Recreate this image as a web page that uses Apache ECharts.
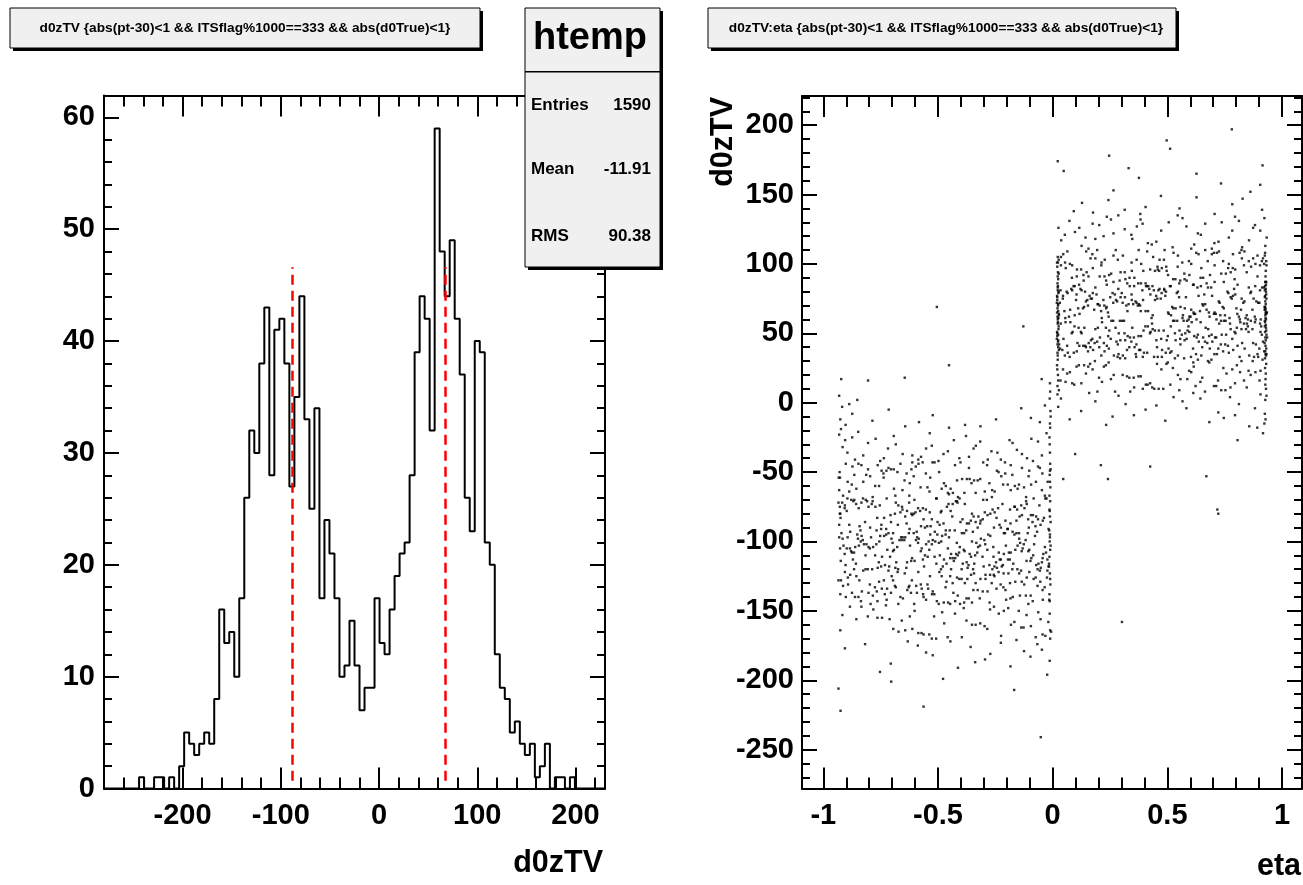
<!DOCTYPE html>
<html><head><meta charset="utf-8">
<script src="https://cdn.jsdelivr.net/npm/echarts@6/dist/echarts.min.js"></script>
<style>html,body{margin:0;padding:0;background:#fff;}#c{width:1303px;height:885px;}</style>
</head><body><div id="c"></div>
<script>
// ---------- data ----------
const histTitle = 'd0zTV {abs(pt-30)<1 && ITSflag%1000==333 && abs(d0True)<1}';
const scatTitle = 'd0zTV:eta {abs(pt-30)<1 && ITSflag%1000==333 && abs(d0True)<1}';
const statsName = 'htemp';
const statsLabels = ['Entries', 'Mean', 'RMS'];
const statsValues = ['1590', '-11.91', '90.38'];
const histXName = 'd0zTV';
const scatXName = 'eta';
const scatYName = 'd0zTV';

const histRange = [-280, 230];
const histCounts = [
  0,0,0,0,0,0,0,1,0,0,
  1,1,0,1,0,2,5,4,3,4,
  5,4,8,16,13,14,10,17,26,32,
  30,38,43,28,41,42,38,27,35,44,
  33,25,34,17,24,21,17,10,11,15,
  11,7,9,9,17,13,12,16,19,21,
  22,28,39,44,42,32,59,48,44,49,
  42,37,26,23,40,39,22,20,12,9,
  8,5,6,4,3,4,1,2,4,0,
  1,1,0,1,0,0,0,0,0,0
];
const histYMax = 61.95;
const redLineX = [-88.5, 67.1];
const redLineY = [0.7, 46.6];
const histXTicks = [-200, -100, 0, 100, 200];
const histYTicks = [0, 10, 20, 30, 40, 50, 60];

const scatXRange = [-1.093, 1.087];
const scatYRange = [-278, 221];
const scatXTicks = [-1, -0.5, 0, 0.5, 1];
const scatYTicks = [-250, -200, -150, -100, -50, 0, 50, 100, 150, 200];

// scatter points [eta, d0zTV], eta < 0 cluster
const leftCore = [
[-.931,-97],[-.474,-113],[-.126,-102],[-.713,-118],[-.285,-106],[-.852,-95],[-.557,-110],[-.034,-104],[-.392,-116],[-.668,-99],[-.191,-108],[-.806,-120],[-.333,-101],[-.602,-114],[-.077,-96],[-.515,-111],[-.884,-105],[-.243,-119],[-.756,-100],[-.421,-109],[-.158,-94],[-.635,-115],[-.912,-103],[-.367,-117],[-.584,-98],[-.093,-112],[-.696,-107],
[-.452,-97],[-.226,-113],[-.823,-102],[-.301,-118],[-.538,-106],[-.012,-95],[-.774,-110],[-.405,-104],[-.172,-116],[-.647,-99],[-.875,-108],[-.263,-120],[-.496,-101],[-.114,-114],[-.735,-96],[-.356,-111],[-.571,-105],[-.052,-119],[-.837,-100],[-.443,-109],[-.208,-94],[-.682,-115],[-.317,-103],[-.903,-117],[-.146,-98],[-.613,-112],[-.384,-107],
[-.792,-97],[-.023,-113],[-.527,-102],[-.254,-118],[-.721,-106],[-.467,-95],[-.085,-110],[-.861,-104],[-.342,-116],[-.596,-99],[-.183,-108],[-.674,-120],[-.418,-101],[-.924,-114],[-.272,-96],[-.545,-111],[-.131,-105],[-.763,-119],[-.486,-100],[-.041,-109],[-.627,-94],[-.375,-115],[-.845,-103],[-.217,-117],[-.703,-98],[-.436,-112],[-.106,-107],
[-.894,-97],[-.566,-113],[-.294,-102],[-.748,-118],[-.163,-106],[-.503,-95],[-.816,-110],[-.325,-104],[-.062,-116],[-.658,-99],[-.235,-108],[-.787,-120],
[-.927,-105],[-.479,-118],[-.118,-99],[-.709,-111],[-.281,-95],[-.858,-116],[-.552,-102],[-.029,-108],[-.397,-120],[-.661,-97],[-.195,-113],[-.803,-104],[-.338,-110],[-.606,-94],[-.072,-117],[-.512,-100],[-.879,-107],[-.247,-115],[-.752,-96],[-.425,-112],[-.153,-103],[-.638,-119],[-.916,-98],[-.362,-109],[-.587,-101],[-.097,-114],[-.692,-106],
[-.457,-105],[-.222,-118],[-.828,-99],[-.306,-111],[-.534,-95],[-.016,-116],[-.769,-102],[-.408,-108],[-.176,-120],[-.643,-97],[-.871,-113],[-.259,-104],[-.492,-110],[-.109,-94],[-.731,-117],[-.352,-100],[-.575,-107],[-.047,-115],[-.833,-96],[-.447,-112],[-.204,-103],[-.686,-119],[-.313,-98],[-.907,-109],[-.142,-101],[-.617,-114],[-.388,-106],
[-.797,-105],[-.018,-118],[-.523,-99],[-.258,-111],[-.726,-95],[-.463,-116],[-.081,-102],[-.866,-108],[-.347,-120],[-.591,-97],[-.187,-113],[-.678,-104],[-.414,-110],[-.921,-94],[-.276,-117],[-.541,-100],[-.135,-107],[-.758,-115],[-.482,-96],[-.044,-112],[-.622,-103],[-.371,-119],[-.849,-98],[-.213,-109],[-.698,-101],[-.431,-114],[-.102,-106],
[-.898,-105],[-.561,-118],[-.298,-99],[-.744,-111],[-.167,-95],[-.507,-116],[-.812,-102],[-.329,-108],[-.066,-120],[-.654,-97],[-.231,-113],[-.783,-104],
[-.012,-97],[-.014,-111],[-.009,-103],[-.016,-118],[-.011,-106],[-.013,-100]
];
const leftMidUpper = [
[-.785,-71],[-.232,-88],[-.655,-77],[-.068,-93],[-.324,-82],[-.815,-70],[-.502,-86],[-.167,-75],[-.748,-91],[-.296,-79],[-.563,-84],[-.895,-69],[-.104,-90],[-.436,-73],[-.707,-81],[-.213,-94],[-.846,-76],[-.374,-87],[-.626,-72],[-.043,-85],[-.485,-78],[-.768,-92],[-.137,-74],[-.547,-89],[-.272,-80],[-.925,-83],
[-.418,-71],[-.675,-88],[-.186,-77],[-.593,-93],[-.345,-82],[-.865,-70],[-.088,-86],[-.461,-75],[-.726,-91],[-.253,-79],[-.527,-84],[-.027,-69],[-.796,-90],[-.383,-73],[-.612,-81],[-.147,-94],[-.907,-76],[-.316,-87],[-.684,-72],[-.206,-85],[-.445,-78],[-.838,-92],[-.058,-74],[-.574,-89],[-.352,-80],[-.735,-83],
[-.116,-71],[-.493,-88],[-.262,-77],[-.878,-70],[-.175,-93],[-.643,-82],[-.402,-86],[-.773,-75],[-.018,-91],[-.536,-79],[-.305,-84],[-.827,-69],[-.226,-90],[-.454,-73],[-.095,-81],[-.696,-94],[-.587,-76],[-.365,-87],[-.918,-72],[-.158,-85],[-.635,-78],[-.427,-92],[-.754,-74],[-.075,-89],[-.606,-80],[-.245,-83],
[-.422,-71],[-.887,-88],[-.155,-77],[-.514,-93],[-.072,-82],[-.603,-70],[-.336,-86],[-.803,-75],[-.196,-91],[-.664,-79],[-.393,-84],[-.032,-69],[-.557,-90],[-.857,-73],[-.284,-81],[-.716,-94],[-.123,-76],[-.476,-87],[-.934,-72],
[-.928,-80],[-.466,-92],[-.113,-73],[-.705,-86],[-.287,-70],[-.842,-89],[-.553,-77],[-.038,-83],[-.386,-94],[-.657,-75],[-.184,-87],[-.809,-71],[-.327,-90],[-.598,-79],[-.064,-84],[-.508,-69],[-.883,-93],[-.238,-76],[-.747,-88],[-.415,-72],[-.144,-82],[-.624,-91],[-.906,-74],[-.357,-85],[-.578,-78],[-.086,-81],
[-.688,-80],[-.449,-92],[-.219,-73],[-.818,-86],[-.303,-70],[-.532,-89],[-.014,-77],[-.765,-83],[-.396,-94],[-.165,-75],[-.637,-87],[-.869,-71],[-.256,-90],[-.488,-79],[-.107,-84],[-.724,-69],[-.348,-93],[-.566,-76],[-.053,-88],[-.834,-72],[-.438,-82],[-.197,-91],[-.673,-74],[-.314,-85],[-.898,-78],[-.134,-81],
[-.616,-80],[-.377,-92],[-.789,-73],
[-.011,-71],[-.013,-78],[-.009,-86],[-.015,-92],[-.012,-82],[-.928,-75],[-.931,-88],[-.926,-80]
];
const leftMidLower = [
[-.494,-122],[-.117,-139],[-.736,-128],[-.352,-144],[-.575,-131],[-.056,-121],[-.832,-136],[-.447,-125],[-.203,-142],[-.684,-133],[-.315,-127],[-.902,-140],[-.146,-123],[-.618,-137],[-.383,-130],[-.794,-145],[-.025,-126],[-.526,-138],[-.257,-124],[-.722,-134],[-.463,-129],[-.087,-143],[-.866,-120],[-.346,-135],[-.595,-132],[-.184,-141],
[-.676,-122],[-.414,-139],[-.923,-128],[-.275,-144],[-.546,-131],[-.138,-121],[-.767,-136],[-.484,-125],[-.043,-142],[-.628,-133],[-.372,-127],[-.847,-140],[-.214,-123],[-.705,-137],[-.436,-130],[-.106,-145],[-.893,-126],[-.565,-138],[-.293,-124],[-.745,-134],[-.163,-129],[-.505,-143],[-.816,-120],[-.327,-135],[-.066,-132],[-.653,-141],
[-.236,-122],[-.784,-139],[-.934,-128],[-.475,-144],[-.124,-131],[-.716,-121],[-.284,-136],[-.856,-125],[-.552,-142],[-.035,-133],[-.397,-127],[-.664,-140],[-.193,-123],[-.803,-137],[-.336,-130],[-.604,-145],[-.074,-126],[-.516,-138],[-.883,-124],[-.245,-134],[-.757,-129],[-.425,-143],[-.154,-120],[-.634,-135],[-.914,-132],[-.366,-141],
[-.586,-122],[-.096,-139],[-.696,-128],[-.456,-144],[-.227,-131],[-.826,-121],[-.305,-136],[-.535,-125],[-.015,-142],[-.775,-133],[-.407,-127],[-.174,-140],[-.645,-123],[-.875,-137],[-.266,-130],[-.497,-145],[-.113,-126],[-.732,-138],[-.356,-124],[-.571,-134],[-.054,-129],[-.836,-143],[-.443,-120],[-.206,-135],[-.688,-132],[-.318,-141],
[-.906,-122],[-.143,-139],[-.614,-128],[-.386,-144],[-.797,-131],[-.023,-121],[-.523,-136],[-.254,-125],[-.724,-142],[-.467,-133],[-.083,-127],[-.862,-140],[-.343,-123],[-.592,-137],[-.186,-130],[-.673,-145],[-.417,-126],[-.926,-138],[-.273,-124],[-.543,-134],[-.135,-129],[-.764,-143],[-.487,-120],[-.044,-135],[-.625,-132],[-.376,-141],
[-.012,-123],[-.010,-131],[-.014,-138],[-.011,-127],[-.013,-143],
[-.843,-128],[-.215,-133],[-.702,-125],[-.433,-137],[-.102,-122],[-.892,-131],[-.563,-140],[-.293,-127]
];
const leftLow = [
[-.884,-147],[-.612,-163],[-.235,-152],[-.458,-169],[-.053,-156],[-.727,-146],[-.336,-160],[-.148,-150],[-.563,-167],[-.806,-154],[-.019,-158],[-.404,-145],[-.672,-165],[-.273,-149],[-.095,-161],[-.527,-170],[-.917,-153],[-.376,-157],[-.194,-148],[-.643,-164],[-.482,-151],[-.032,-168],[-.764,-155],[-.316,-159],[-.127,-162],[-.586,-166],
[-.256,-147],[-.695,-163],[-.426,-152],[-.074,-169],[-.856,-156],[-.352,-160],[-.213,-150],[-.538,-167],[-.623,-154],[-.167,-158],[-.447,-145],[-.007,-165],[-.782,-149],[-.297,-161],[-.508,-170],[-.114,-153],[-.658,-157],[-.388,-148],[-.926,-164],[-.063,-151],[-.225,-168],[-.744,-155],[-.473,-159],[-.137,-162],[-.572,-166],
[-.834,-147],[-.285,-163],[-.013,-152],[-.396,-169],[-.711,-156],[-.182,-160],[-.602,-150],[-.044,-167],[-.517,-154],[-.011,-164],
[-.632,-172],[-.295,-185],[-.047,-178],[-.818,-174],[-.413,-191],[-.158,-171],[-.552,-180],[-.024,-196],[-.358,-176],[-.706,-188],[-.226,-173],[-.097,-183],[-.478,-199],[-.906,-177],[-.184,-190],[-.588,-175],[-.013,-186],[-.272,-181],[-.446,-172],[-.753,-194],[-.125,-179],[-.338,-187],[-.067,-174],[-.523,-182],[-.011,-170],
[-.925,-222],[-.052,-241],[-.563,-219],[-.934,-206],[-.168,-207],[-.704,-201]
];
const leftHigh = [
[-.426,-45],[-.153,-62],[-.637,-51],[-.914,-67],[-.362,-55],[-.585,-44],[-.094,-59],[-.693,-48],[-.457,-65],[-.224,-53],[-.826,-57],[-.303,-43],[-.537,-64],[-.012,-49],[-.774,-60],[-.406,-69],[-.176,-52],[-.646,-56],[-.873,-46],[-.264,-63],[-.495,-50],[-.116,-68],[-.737,-54],[-.354,-58],[-.576,-61],[-.056,-47],
[-.834,-45],[-.445,-62],[-.207,-51],[-.686,-67],[-.316,-55],[-.902,-44],[-.147,-59],[-.616,-48],[-.385,-65],[-.796,-53],[-.022,-57],[-.524,-43],[-.253,-64],[-.725,-49],[-.466,-60],[-.083,-69],[-.865,-52],[-.343,-56],[-.597,-46],[-.183,-63],[-.677,-50],[-.413,-68],[-.927,-54],[-.276,-58],[-.546,-61],[-.134,-47],
[-.763,-45],[-.484,-62],[-.045,-51],[-.625,-67],[-.374,-55],[-.847,-44],[-.216,-59],[-.705,-48],[-.435,-65],[-.105,-53],[-.894,-57],[-.567,-43],[-.296,-64],[-.746,-49],[-.165,-60],[-.506,-69],[-.813,-52],[-.327,-56],[-.064,-46],[-.655,-63],[-.236,-50],[-.785,-68],[-.933,-54],[-.474,-58],[-.125,-61],[-.716,-47],
[-.286,-45],[-.856,-62],[-.553,-51],[-.034,-67],[-.395,-55],[-.664,-44],[-.196,-59],[-.805,-48],[-.336,-65],[-.606,-53],[-.073,-57],[-.515,-43],[-.887,-64],[-.243,-49],[-.757,-60],
[-.011,-44],[-.013,-52],[-.010,-61],[-.014,-67],[-.012,-57],[-.929,-50],[-.931,-63],[-.009,-48],
[-.452,-66],[-.183,-45],[-.623,-58],[-.047,-63],[-.738,-51],[-.365,-47],[-.876,-59],[-.265,-68],[-.534,-54],[-.102,-49],[-.692,-62],[-.417,-56],
[-.874,-25],[-.612,-38],[-.335,-31],[-.086,-42],[-.923,-19],[-.457,-35],[-.188,-27],[-.736,-40],[-.027,-22],[-.552,-33],[-.283,-41],[-.805,-29],[-.134,-37],[-.693,-24],[-.402,-43],[-.916,-32],[-.241,-36],[-.064,-28],[-.586,-41],[-.848,-21],[-.365,-39],[-.156,-34],[-.772,-26],[-.498,-42],[-.013,-30],[-.654,-37],[-.316,-28],
[-.895,-36],[-.208,-43],[-.527,-31],[-.047,-38],[-.718,-33],[-.431,-27],[-.112,-40],[-.931,-23],[-.612,-43],[-.267,-35],[-.826,-38],[-.378,-24],[-.011,-18],[-.574,-39],[-.175,-29],[-.752,-42],[-.476,-37],[-.093,-26],[-.862,-41],[-.345,-33],[-.012,-36],[-.684,-30],[-.226,-41],[-.905,-27],[-.536,-22],[-.014,-25],[-.407,-40],
[-.926,-12],[-.918,-3],[-.931,5],[-.903,-16],[-.874,-8],[-.852,2],[-.012,-15],[-.010,-6],[-.013,3],[-.011,8],[-.009,-10],[-.034,-2],[-.056,-14],[-.786,-13],[-.643,-17],[-.523,-9],[-.382,-16],[-.247,-12],[-.137,-4],[-.715,-5],[-.452,-18],[-.095,-11],[-.315,-17],[-.583,-14],[-.887,-1],
[-.922,17],[-.805,16],[-.505,69],[-.128,55],[-.048,17],[-.452,27],[-.012,14],[-.645,18]
];
// eta > 0 cluster
const rightCore = [
[.932,35],[.484,52],[.133,41],[.726,57],[.295,45],[.857,34],[.563,49],[.042,38],[.404,55],[.674,43],[.206,47],[.815,33],[.347,54],[.612,39],[.083,50],[.525,59],[.886,42],[.253,46],[.768,36],[.436,53],[.164,40],[.645,58],[.917,44],[.374,48],[.596,51],[.105,37],
[.705,35],[.463,52],[.236,41],[.834,57],[.316,45],[.546,34],[.024,49],[.787,38],[.415,55],[.183,43],[.656,47],[.878,33],[.274,54],[.505,39],[.126,50],[.747,59],[.365,42],[.584,46],[.066,36],[.843,53],[.455,40],[.215,58],[.696,44],[.327,48],[.906,51],[.154,37],
[.625,35],[.396,52],[.806,41],[.035,57],[.536,45],[.267,34],[.737,49],[.477,38],[.095,55],[.874,43],[.354,47],[.603,33],[.197,54],[.685,39],[.424,50],[.925,59],[.284,42],[.556,46],[.145,40],[.776,53],[.493,36],[.056,58],[.637,44],[.385,48],[.854,51],[.226,37],
[.716,35],[.446,52],[.116,41],[.904,57],[.575,45],[.306,34],[.756,49],[.176,38],[.515,55],[.826,43],[.337,47],[.074,33],[.667,54],[.245,39],[.797,50],
[.935,47],[.476,33],[.138,54],[.722,39],[.288,50],[.864,59],[.557,42],[.047,46],[.398,36],[.678,53],[.203,40],[.818,58],[.343,44],[.617,48],[.087,51],[.518,37],[.893,35],[.247,52],[.764,41],[.433,57],[.167,45],[.648,34],[.912,49],[.377,38],[.592,55],[.108,43],
[.708,47],[.458,33],[.232,54],[.837,39],[.313,50],[.543,59],[.028,42],[.783,46],[.412,36],[.186,53],[.652,40],[.882,58],[.278,44],[.502,48],[.123,51],[.743,37],[.362,35],[.588,52],[.063,41],[.847,57],[.452,45],[.212,34],[.693,49],[.324,38],[.909,55],[.157,43],
[.628,47],[.393,33],[.803,54],[.032,39],[.533,50],[.264,59],[.733,42],[.473,46],[.092,36],[.871,53],[.357,40],[.606,58],[.194,44],[.682,48],[.427,51],[.922,37],[.287,35],[.553,52],[.142,41],[.773,57],[.497,45],[.053,34],[.633,49],[.382,38],[.851,55],[.223,43],
[.713,47],[.442,33],[.113,54],[.901,39],[.578,50],[.303,59],[.752,42],[.173,46],[.512,36],[.823,53],[.334,40],[.077,58],[.664,44],[.242,48],[.793,51],
[.021,36],[.023,44],[.019,51],[.022,57],[.024,40],[.020,48],[.026,55],[.022,34],[.025,53],[.021,42],[.018,46],[.023,58],[.027,38],[.020,50],[.024,45],
[.927,37],[.929,45],[.931,52],[.926,58],[.928,41],[.932,49],[.925,55],[.930,34],[.927,47],[.929,56],[.924,43],[.931,39],[.926,51],[.928,35],[.930,54],
[.214,61],[.695,77],[.326,66],[.913,83],[.154,70],[.627,60],[.394,74],[.805,64],[.034,81],[.536,68],[.264,72],[.734,59],[.475,79],[.096,63],[.876,75],[.355,84],[.604,67],[.196,71],[.684,62],[.426,78],[.928,65],[.286,82],[.557,69],[.145,73],[.776,76],[.494,80],
[.055,61],[.636,77],[.384,66],[.855,83],[.225,70],[.714,60],[.446,74],[.117,64],[.904,81],[.576,68],[.305,72],[.754,59],[.175,79],[.516,63],[.824,75],[.336,84],[.076,67],[.665,71],[.244,62],[.796,78],[.934,65],[.486,82],[.137,69],[.724,73],[.296,76],[.865,80],
[.566,61],[.045,77],[.405,66],[.677,83],[.205,70],[.816,60],[.345,74],[.616,64],[.085,81],[.526,68],[.896,72],[.256,59],[.766,79],[.436,63],[.166,75],[.646,84],[.924,67],[.376,71],[.596,62],[.104,78],[.706,65],[.466,82],[.235,69],[.836,73],[.315,76],[.546,80],
[.025,61],[.786,77],[.416,66],[.186,83],[.656,70],[.885,60],[.276,74],[.506,64],[.126,81],[.746,68],[.366,72],[.586,59],[.065,79],[.846,63],[.456,75],
[.931,64],[.487,81],[.132,68],[.728,72],[.293,59],[.862,79],[.568,63],[.044,75],[.407,84],[.671,67],[.198,71],[.812,62],[.344,78],[.614,65],[.081,82],[.521,69],[.888,73],[.251,76],[.762,80],[.431,61],[.161,77],[.642,66],[.921,83],[.371,70],[.593,60],[.102,74],
[.703,64],[.461,81],[.233,68],[.831,72],[.311,59],[.541,79],[.027,63],[.781,75],[.411,84],[.181,67],[.653,71],[.881,62],[.271,78],[.503,65],[.121,82],[.741,69],[.361,73],[.581,76],[.061,80],[.841,61],[.451,77],[.211,66],[.691,83],[.321,70],[.907,60],[.151,74],
[.621,64],[.391,81],[.801,68],[.031,72],[.531,59],[.261,79],[.731,63],[.471,75],[.091,84],[.871,67],[.351,71],[.601,62],[.191,78],[.681,65],[.421,82],[.926,69],[.281,73],[.551,76],[.141,80],[.771,61],[.491,77],[.051,66],[.631,83],[.381,70],[.851,60],[.221,74],
[.711,64],[.441,81],[.111,68],[.901,72],[.571,59],[.301,79],[.751,63],[.171,75],[.511,84],[.821,67],[.331,71],[.071,62],[.661,78],[.241,65],[.791,82],
[.021,62],[.023,70],[.019,77],[.022,83],[.024,66],[.020,74],[.026,80],[.022,60],[.025,79],[.021,68],[.018,72],[.023,84],[.027,64],[.020,76],[.024,71],[.022,81],[.019,65],
[.927,63],[.929,71],[.931,78],[.926,84],[.928,67],[.932,75],[.925,81],[.930,60],[.927,73],[.929,82],[.924,69],[.931,65],[.926,77],[.928,61],[.930,80],[.927,68],[.925,76]
];
const rightUpper = [
[.373,86],[.594,102],[.105,91],[.703,108],[.464,95],[.236,85],[.834,99],[.317,89],[.546,106],[.026,93],[.785,97],[.417,84],[.186,104],[.656,90],[.884,100],[.275,110],[.503,92],[.124,96],[.746,87],[.366,103],[.584,88],[.064,109],[.846,94],[.457,98],[.213,101],[.694,107],
[.325,86],[.912,102],[.156,91],[.626,108],[.395,95],[.806,85],[.036,99],[.535,89],[.265,106],[.735,93],[.476,97],[.096,84],[.874,104],[.356,90],[.604,100],[.194,110],[.686,92],[.425,96],[.928,87],[.284,103],[.556,88],[.146,109],[.776,94],[.495,98],[.054,101],[.636,107],
[.385,86],[.855,102],[.226,91],[.716,108],[.446,95],[.115,85],[.904,99],[.575,89],[.306,106],[.755,93],[.175,97],[.515,84],[.825,104],[.335,90],[.075,100],[.665,110],[.246,92],[.796,96],[.931,87],[.485,103],[.135,88],[.725,109],[.296,94],[.865,98],[.565,101],[.046,107],
[.405,86],[.676,102],[.205,91],[.815,108],[.345,95],[.615,85],[.085,99],[.525,89],[.893,106],[.255,93],[.765,97],[.435,84],[.165,104],[.645,90],[.922,100],[.375,110],[.596,92],[.106,96],[.706,87],[.466,103],[.233,88],[.836,109],[.314,94],[.545,98],[.023,101],[.786,107],
[.212,99],[.671,86],[.438,105],[.893,91],[.057,97],[.527,108],[.292,88],[.743,102],[.148,94],[.612,85],[.386,100],[.823,110],[.084,90],[.458,96],[.917,104],[.265,87],[.706,99],[.173,107],[.574,93],[.344,101],
[.793,89],[.036,105],[.497,95],[.883,84],[.227,103],[.648,97],[.412,109],[.134,92],[.768,100],[.552,86],
[.021,86],[.023,94],[.019,101],[.022,105],[.024,89],[.020,98],[.026,103],[.022,91],
[.927,87],[.929,95],[.931,102],[.926,108],[.928,91],[.932,99],[.925,106],[.930,85],
[.126,113],[.583,127],[.347,118],[.812,131],[.053,121],[.694,111],[.236,134],[.452,116],[.905,124],[.174,129],[.617,114],[.383,132],[.768,119],[.025,126],[.523,112],[.286,135],[.856,117],[.097,123],[.737,130],[.415,115],[.203,128],[.646,121],[.927,113],[.314,125],[.566,133],[.143,119],
[.874,126],[.488,110],[.073,131],[.723,116],[.265,122],[.545,135],[.826,112],[.367,127],[.186,118],[.665,129],[.432,114],[.923,133],[.222,120],[.783,124],[.604,111],[.037,117],[.506,130],[.343,121],[.882,128],[.116,126],[.705,115],[.254,132],[.933,119],[.473,124],[.795,134],[.156,111],[.633,122],[.392,129],
[.092,138],[.243,146],[.405,141],[.862,152],[.176,137],[.627,148],[.783,143],[.314,139],[.905,157],[.472,149],[.128,144],[.706,136],[.553,140],[.828,147],[.265,153],[.913,139],[.382,136],[.734,158],
[.022,174],[.048,167],[.331,169],[.376,162],[.915,171],[.512,183],[.627,165],[.246,178],
[.497,189],[.781,197]
];
const rightLower = [
[.482,10],[.137,27],[.721,16],[.294,32],[.863,20],[.552,9],[.045,24],[.406,13],[.677,30],[.202,18],[.817,22],[.338,8],[.613,29],[.085,14],[.524,25],[.896,33],[.254,17],[.758,21],[.434,11],[.163,28],[.644,15],[.915,31],[.374,19],[.595,23],[.104,26],[.703,12],
[.462,10],[.232,27],[.834,16],[.316,32],[.546,20],[.027,9],[.783,24],[.414,13],[.184,30],[.652,18],[.884,22],[.272,8],[.502,29],[.125,14],[.744,25],[.364,33],[.587,17],[.063,21],[.846,11],[.455,28],[.215,15],[.692,31],[.324,19],[.906,23],[.155,26],[.623,12],
[.393,10],[.803,27],[.034,16],[.533,32],[.266,20],[.735,9],[.474,24],[.094,13],[.872,30],[.353,18],[.604,22],[.195,8],[.683,29],[.425,14],[.926,25],[.283,33],[.557,17],[.145,21],[.775,11],[.496,28],[.056,15],[.633,31],[.384,19],[.854,23],[.223,26],[.713,12],
[.443,10],[.114,27],[.902,16],[.573,32],[.305,20],[.753,9],[.174,24],[.513,13],[.823,30],[.334,18],[.075,22],[.664,8],[.244,29],[.795,14],
[.021,12],[.023,20],[.019,27],[.022,31],[.024,16],[.020,24],
[.927,13],[.929,21],[.931,28],[.926,32],[.928,17],[.930,10],[.615,26],[.355,11],
[.036,3],[.124,-6],[.287,5],[.452,-2],[.613,7],[.746,-11],[.882,-4],[.923,-15],[.927,2],[.925,-8],[.021,6],[.024,-3],[.186,1],[.354,-9],[.527,4],[.683,-14],[.812,-1],[.906,6],[.074,-12],[.233,-16],[.405,-5],[.566,1],[.722,-7],[.857,-17],[.928,-12],[.159,7],[.318,-1],[.491,-13],[.644,3],[.795,-9],[.892,-18],[.932,5],[.261,-10],[.773,4],[.583,-4],
[.098,-37],[.210,-45],[.241,-55],[.425,-46],[.670,-53],[.718,-77],[.722,-80],[.806,-27],[.917,-22],[.046,-55],[.302,-158]
];

// ---------- helpers ----------
const FONT = '"Liberation Sans", Arial, sans-serif';
const BLACK = '#000';
function minorVals(range, step) {
  const out = [];
  const start = Math.ceil(range[0] / step - 1e-9);
  for (let i = start; i * step <= range[1] + 1e-9; i++) out.push(+(i * step).toFixed(6));
  return out;
}
const labelStyle = { color: BLACK, fontFamily: FONT, fontWeight: 'bold', fontSize: 29 };
function axisSet(dim, gi, range, majors, minors, majLen, minLen, labelMargin) {
  const posA = dim === 'x' ? 'bottom' : 'left';
  const posB = dim === 'x' ? 'top' : 'right';
  const base = { type: 'value', gridIndex: gi, min: range[0], max: range[1], splitLine: { show: false }, scale: true };
  const line = { show: true, onZero: false, lineStyle: { color: BLACK, width: 2 } };
  const noLine = { show: false, onZero: false };
  const tk = (vals, len) => ({ show: true, inside: true, length: len, customValues: vals, lineStyle: { color: BLACK, width: 2 } });
  return [
    Object.assign({}, base, { position: posA, axisLine: line, axisTick: tk(majors, majLen),
      axisLabel: Object.assign({ show: true, customValues: majors, margin: labelMargin }, labelStyle) }),
    Object.assign({}, base, { position: posA, axisLine: noLine, axisTick: tk(minors, minLen), axisLabel: { show: false } }),
    Object.assign({}, base, { position: posB, axisLine: line, axisTick: tk(majors, majLen), axisLabel: { show: false } }),
    Object.assign({}, base, { position: posB, axisLine: noLine, axisTick: tk(minors, minLen), axisLabel: { show: false } })
  ];
}

// histogram outline (ROOT style) from bin counts
const nb = histCounts.length;
const bw = (histRange[1] - histRange[0]) / nb;
const histPts = [[histRange[0], 0]];
for (let k = 0; k < nb; k++) histPts.push([histRange[0] + k * bw, histCounts[k]]);
histPts.push([histRange[1], histCounts[nb - 1]]);
histPts.push([histRange[1], 0]);

const xAxes = [
  ...axisSet('x', 0, histRange, histXTicks, minorVals(histRange, 20), 21, 11, 13),
  ...axisSet('x', 1, scatXRange, scatXTicks, minorVals(scatXRange, 0.1), 21, 11, 13)
];
const yAxes = [
  ...axisSet('y', 0, [0, histYMax], histYTicks, minorVals([0, histYMax], 2), 15, 8, 9),
  ...axisSet('y', 1, scatYRange, scatYTicks, minorVals(scatYRange, 10), 15, 8, 8)
];

const chart = echarts.init(document.getElementById('c'), null, { renderer: 'canvas' });
const boxFill = '#f0f0f0';
function box(x, y, w, h) {
  return [
    { type: 'rect', z: 100, shape: { x: x + 3, y: y + 3, width: w, height: h }, style: { fill: BLACK } },
    { type: 'rect', z: 101, shape: { x: x, y: y, width: w, height: h }, style: { fill: boxFill, stroke: BLACK, lineWidth: 1 } }
  ];
}
const titleFont = 'bold 13.7px ' + FONT;
const statFont = 'bold 17px ' + FONT;
const axisTitleFont = 'bold 30.5px ' + FONT;
const graphics = [
  ...box(10, 8, 470, 40),
  { type: 'text', z: 102, x: 245, y: 28, style: { text: histTitle, font: titleFont, fill: BLACK, align: 'center', verticalAlign: 'middle' } },
  ...box(708, 8, 468, 40),
  { type: 'text', z: 102, x: 946, y: 28, style: { text: scatTitle, font: titleFont, fill: BLACK, align: 'center', verticalAlign: 'middle' } },
  ...box(525, 8, 135, 259),
  { type: 'line', z: 102, shape: { x1: 525, y1: 71.7, x2: 660, y2: 71.7 }, style: { stroke: BLACK, lineWidth: 1.5 } },
  { type: 'text', z: 102, x: 590, y: 38.5, style: { text: statsName, font: 'bold 38px ' + FONT, fill: BLACK, align: 'center', verticalAlign: 'middle' } },
  { type: 'text', z: 102, x: 531, y: 105.5, style: { text: statsLabels[0], font: statFont, fill: BLACK, align: 'left', verticalAlign: 'middle' } },
  { type: 'text', z: 102, x: 651, y: 105.5, style: { text: statsValues[0], font: statFont, fill: BLACK, align: 'right', verticalAlign: 'middle' } },
  { type: 'text', z: 102, x: 531, y: 169.5, style: { text: statsLabels[1], font: statFont, fill: BLACK, align: 'left', verticalAlign: 'middle' } },
  { type: 'text', z: 102, x: 651, y: 169.5, style: { text: statsValues[1], font: statFont, fill: BLACK, align: 'right', verticalAlign: 'middle' } },
  { type: 'text', z: 102, x: 531, y: 236.5, style: { text: statsLabels[2], font: statFont, fill: BLACK, align: 'left', verticalAlign: 'middle' } },
  { type: 'text', z: 102, x: 651, y: 236.5, style: { text: statsValues[2], font: statFont, fill: BLACK, align: 'right', verticalAlign: 'middle' } },
  { type: 'text', z: 50, x: 603, y: 864, style: { text: histXName, font: axisTitleFont, fill: BLACK, align: 'right', verticalAlign: 'middle' } },
  { type: 'text', z: 50, x: 1301, y: 867, style: { text: scatXName, font: axisTitleFont, fill: BLACK, align: 'right', verticalAlign: 'middle' } },
  { type: 'text', z: 50, x: 724, y: 97, rotation: Math.PI / 2, style: { text: scatYName, font: axisTitleFont, fill: BLACK, align: 'right', verticalAlign: 'middle' } }
];

chart.setOption({
  animation: false,
  backgroundColor: '#fff',
  grid: [
    { left: 104, top: 95.5, width: 501, height: 693, containLabel: false, outerBoundsMode: 'none' },
    { left: 802, top: 96, width: 500, height: 692.5, containLabel: false, outerBoundsMode: 'none' }
  ],
  xAxis: xAxes,
  yAxis: yAxes,
  graphic: graphics,
  series: [
    {
      type: 'line', xAxisIndex: 0, yAxisIndex: 0, step: 'end', data: histPts, symbol: 'none',
      lineStyle: { color: BLACK, width: 2 }, z: 3, silent: true,
      markLine: {
        silent: true, symbol: ['none', 'none'], label: { show: false },
        lineStyle: { color: '#ff0000', width: 2.5, type: [10, 6] },
        data: redLineX.map(x => [{ coord: [x, redLineY[0]] }, { coord: [x, redLineY[1]] }])
      }
    },
    {
      type: 'scatter', xAxisIndex: 4, yAxisIndex: 4, symbol: 'rect', symbolSize: 2.4,
      itemStyle: { color: BLACK }, silent: true, large: false,
      data: [].concat(leftCore, leftMidUpper, leftMidLower, leftLow, leftHigh, rightCore, rightUpper, rightLower)
    }
  ]
});
</script></body></html>
